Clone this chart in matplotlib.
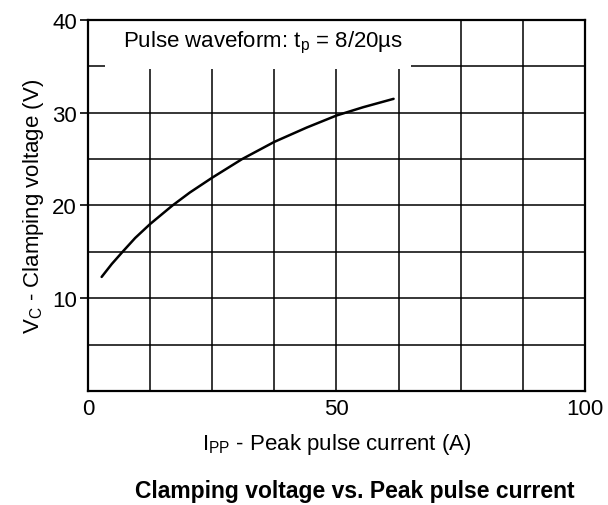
import matplotlib
matplotlib.use("Agg")
import matplotlib.pyplot as plt
from matplotlib.patches import Rectangle
from matplotlib.ticker import MultipleLocator

plt.rcParams['font.family'] = ['Liberation Sans', 'DejaVu Sans']

# Data
ipp = [2.75, 4.8, 6.95, 9.5, 12.5, 17.0, 20.5, 25.0, 31.0, 37.5, 44.0, 50.0, 55.4, 61.5]
vc = [12.3, 13.7, 15.0, 16.5, 18.0, 20.0, 21.4, 23.0, 25.0, 26.86, 28.4, 29.7, 30.6, 31.5]

x_ticks = [0, 50, 100]
y_ticks = [10, 20, 30, 40]

fig = plt.figure(figsize=(6.08, 5.06), dpi=100)
ax = fig.add_axes([0.1447, 0.2253, 0.8173, 0.7332])

ax.set_xlim(0, 100)
ax.set_ylim(0, 40)
ax.xaxis.set_minor_locator(MultipleLocator(12.5))
ax.yaxis.set_minor_locator(MultipleLocator(5))
ax.set_xticks(x_ticks)
ax.set_yticks(y_ticks)
ax.set_xticklabels([str(t) for t in x_ticks])
ax.set_yticklabels([str(t) for t in y_ticks])

ax.grid(which='both', color='black', linewidth=1.1, zorder=1)
ax.set_axisbelow(True)
ax.tick_params(axis='x', which='major', length=0, labelsize=16, pad=5)
ax.tick_params(axis='y', which='major', length=6, width=1.2, labelsize=16, pad=2)
ax.tick_params(which='minor', length=0)
for s in ax.spines.values():
    s.set_linewidth(1.6)
    s.set_color('black')

ax.add_patch(Rectangle((3.4, 34.75), 61.6, 5.1, facecolor='white',
                       edgecolor='none', zorder=2))
ax.text(7.0, 37.6, r'Pulse waveform: t$_\mathregular{p}$ = 8/20µs',
        fontsize=16, va='center', ha='left', zorder=3)

ax.plot(ipp, vc, color='black', linewidth=1.8, zorder=4,
        solid_capstyle='round', solid_joinstyle='round')

ax.set_xlabel(r'I$_\mathregular{PP}$ - Peak pulse current (A)', fontsize=16, labelpad=9)
ax.set_ylabel(r'V$_\mathregular{C}$ - Clamping voltage (V)', fontsize=16, labelpad=4)

fig.text(0.584, 0.028, 'Clamping voltage vs. Peak pulse current',
         fontsize=16.5, fontweight='bold', ha='center', va='center')

fig.savefig('out.png', dpi=100, facecolor='white')
